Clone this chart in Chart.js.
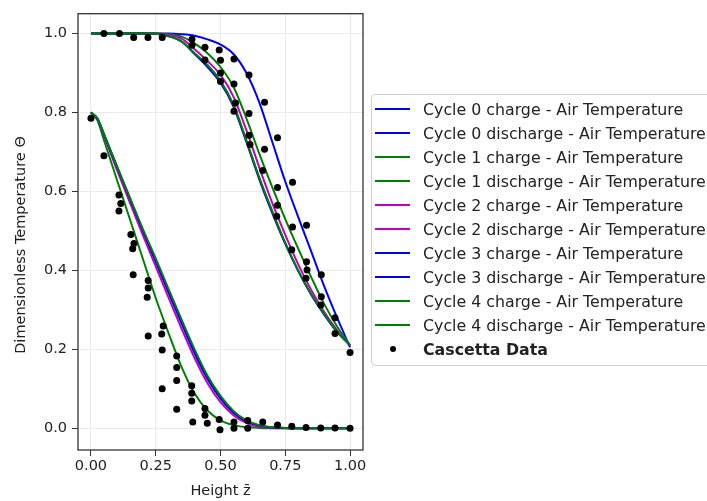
<!DOCTYPE html>
<html lang="en">
<head>
  <meta charset="UTF-8" />
  <title>Air Temperature vs Cascetta Data</title>
  <script src="https://cdn.jsdelivr.net/npm/chart.js@4.4.0/dist/chart.umd.min.js"></script>
  <style>
    html, body { margin: 0; padding: 0; background: #fff; overflow: hidden; }
    #wrap { position: relative; width: 707px; height: 501px; overflow: hidden; }
    #legend {
      position: absolute; left: 371px; top: 94px; width: 380px; height: 272px;
      box-sizing: border-box; border: 1px solid #d2d2d2; border-radius: 4px;
      background: rgba(255,255,255,0.8); padding-top: 2px;
      font-family: "DejaVu Sans", sans-serif; font-size: 15.8px; color: #222;
    }
    .row { height: 24px; display: flex; align-items: center; white-space: nowrap; }
    .swatch { width: 35px; height: 2px; margin-left: 3px; margin-right: 13px; }
    .dot { width: 35px; margin-left: 3px; margin-right: 13px; display: flex; justify-content: center; }
    .dot span { width: 6px; height: 6px; border-radius: 50%; background: #000; }
  </style>
</head>
<body>
  <div id="wrap">
    <canvas id="myChart" width="707" height="501"></canvas>
    <div id="legend"></div>
  </div>

  <script>
    // model grid (dimensionless height)
    const zGrid = [0, 0.025, 0.05, 0.1, 0.15, 0.2, 0.25, 0.3, 0.35, 0.4, 0.45, 0.5, 0.55, 0.6, 0.65, 0.7, 0.75, 0.8, 0.85, 0.9, 0.95, 1.0];

    // charge curves (start at 1.0)
    const cycle0Charge = [1, 1, 1, 1, 1, 1, 1, 1, 0.998, 0.994, 0.985, 0.972, 0.948, 0.9, 0.825, 0.725, 0.625, 0.535, 0.448, 0.36, 0.28, 0.205];
    const cycle1Charge = [1, 1, 1, 1, 1, 1, 1, 0.998, 0.992, 0.975, 0.95, 0.915, 0.865, 0.785, 0.695, 0.61, 0.53, 0.455, 0.383, 0.315, 0.258, 0.21];
    const cycle2Charge = [1, 1, 1, 1, 1, 1, 1, 0.996, 0.987, 0.96, 0.93, 0.895, 0.84, 0.755, 0.66, 0.57, 0.49, 0.415, 0.35, 0.295, 0.248, 0.21];
    const cycle3Charge = [1, 1, 1, 1, 1, 1, 0.999, 0.993, 0.979, 0.948, 0.915, 0.875, 0.815, 0.725, 0.63, 0.545, 0.467, 0.398, 0.338, 0.288, 0.244, 0.21];
    const cycle4Charge = [1, 1, 1, 1, 1, 1, 0.999, 0.993, 0.98, 0.95, 0.92, 0.88, 0.82, 0.73, 0.635, 0.55, 0.47, 0.4, 0.34, 0.29, 0.245, 0.21];

    // discharge curves (start at 0.8)
    const cycle0Discharge = [0.8, 0.784, 0.744, 0.661, 0.58, 0.5, 0.422, 0.343, 0.265, 0.19, 0.125, 0.075, 0.039, 0.017, 0.006, 0.002, 0.0005, 0, 0, 0, 0, 0];
    const cycle1Discharge = [0.8, 0.78, 0.73, 0.63, 0.53, 0.43, 0.33, 0.24, 0.155, 0.088, 0.045, 0.02, 0.008, 0.003, 0.001, 0, 0, 0, 0, 0, 0, 0];
    const cycle2Discharge = [0.8, 0.783, 0.742, 0.655, 0.572, 0.49, 0.41, 0.33, 0.252, 0.178, 0.114, 0.066, 0.033, 0.013, 0.004, 0.001, 0, 0, 0, 0, 0, 0];
    const cycle3Discharge = [0.8, 0.784, 0.745, 0.663, 0.582, 0.502, 0.425, 0.347, 0.27, 0.194, 0.128, 0.078, 0.041, 0.018, 0.007, 0.002, 0.0005, 0, 0, 0, 0, 0];
    const cycle4Discharge = [0.8, 0.785, 0.746, 0.665, 0.585, 0.505, 0.43, 0.352, 0.275, 0.2, 0.133, 0.082, 0.044, 0.02, 0.008, 0.003, 0.001, 0, 0, 0, 0, 0];

    // experimental points
    const cascettaZ = [
      0.05, 0.11, 0.165, 0.22, 0.275, 0.39, 0.39, 0.44, 0.495, 0.44, 0.5, 0.552, 0.5, 0.5, 0.61, 0.552,
      0.67, 0.558, 0.552, 0.61, 0.61, 0.614, 0.72, 0.67, 0.663, 0.72, 0.778, 0.72, 0.717, 0.778, 0.832,
      0.775, 0.832, 0.834, 0.83, 0.889, 0.889, 0.887, 0.942, 0.942, 1.0,
      0.0, 0.05, 0.108, 0.115, 0.108, 0.154, 0.166, 0.161, 0.163, 0.221, 0.221, 0.217, 0.221, 0.279, 0.273,
      0.275, 0.275, 0.331, 0.331, 0.331, 0.331, 0.389, 0.389, 0.389, 0.393, 0.44, 0.44, 0.449, 0.495, 0.498,
      0.552, 0.552, 0.605, 0.605, 0.663, 0.72, 0.775, 0.83, 0.887, 0.942, 1.0
    ];
    const cascettaTheta = [
      1.0, 1.0, 0.99, 0.99, 0.99, 0.985, 0.97, 0.965, 0.958, 0.933, 0.932, 0.935, 0.9, 0.878, 0.895, 0.872,
      0.826, 0.824, 0.803, 0.797, 0.742, 0.719, 0.736, 0.707, 0.653, 0.61, 0.623, 0.565, 0.537, 0.51, 0.514,
      0.452, 0.422, 0.401, 0.38, 0.389, 0.333, 0.312, 0.28, 0.24, 0.192,
      0.785, 0.69, 0.591, 0.569, 0.55, 0.491, 0.468, 0.455, 0.389, 0.374, 0.355, 0.332, 0.234, 0.259, 0.239,
      0.198, 0.1, 0.183, 0.154, 0.121, 0.048, 0.108, 0.089, 0.069, 0.016, 0.05, 0.033, 0.013, 0.022, -0.004,
      0.016, 0.0, 0.02, 0.0, 0.016, 0.008, 0.005, 0.002, 0.001, 0.001, 0.0
    ];

    const xTicks = [0, 0.25, 0.5, 0.75, 1.0];
    const yTicks = [0, 0.2, 0.4, 0.6, 0.8, 1.0];
    const yTitle = 'Dimensionless Temperature \u0398';

    const BLUE = '#0000ff', GREEN = '#008000', MAGENTA = '#bf00bf';

    const curves = [
      ['Cycle 0 charge - Air Temperature', cycle0Charge, BLUE],
      ['Cycle 0 discharge - Air Temperature', cycle0Discharge, BLUE],
      ['Cycle 1 charge - Air Temperature', cycle1Charge, GREEN],
      ['Cycle 1 discharge - Air Temperature', cycle1Discharge, GREEN],
      ['Cycle 2 charge - Air Temperature', cycle2Charge, MAGENTA],
      ['Cycle 2 discharge - Air Temperature', cycle2Discharge, MAGENTA],
      ['Cycle 3 charge - Air Temperature', cycle3Charge, BLUE],
      ['Cycle 3 discharge - Air Temperature', cycle3Discharge, BLUE],
      ['Cycle 4 charge - Air Temperature', cycle4Charge, GREEN],
      ['Cycle 4 discharge - Air Temperature', cycle4Discharge, GREEN]
    ];

    const datasets = curves.map((c, i) => ({
      type: 'line',
      label: c[0],
      data: zGrid.map((z, k) => ({ x: z, y: c[1][k] })),
      borderColor: c[2],
      borderWidth: 2,
      pointRadius: 0,
      fill: false,
      cubicInterpolationMode: 'monotone',
      order: 20 - i
    }));
    datasets.push({
      type: 'scatter',
      label: 'Cascetta Data',
      data: cascettaZ.map((z, k) => ({ x: z, y: cascettaTheta[k] })),
      backgroundColor: '#000',
      borderWidth: 0,
      pointRadius: 3.5,
      order: 0
    });

    const tickFont = { family: 'DejaVu Sans', size: 14.5 };

    // box around the axes (like matplotlib spines) + y label
    const framePlugin = {
      id: 'frame',
      afterDraw(chart) {
        const { ctx, chartArea: a } = chart;
        ctx.save();
        ctx.strokeStyle = '#333';
        ctx.lineWidth = 1.3;
        ctx.strokeRect(a.left, a.top, a.right - a.left, a.bottom - a.top);
        ctx.translate(21, 245);
        ctx.rotate(-Math.PI / 2);
        ctx.font = '14.5px "DejaVu Sans"';
        ctx.fillStyle = '#222';
        ctx.textAlign = 'center';
        ctx.textBaseline = 'middle';
        ctx.fillText(yTitle, 0, 0);
        ctx.restore();
      }
    };

    const chart = new Chart(document.getElementById('myChart'), {
      type: 'line',
      data: { datasets },
      options: {
        responsive: false,
        animation: false,
        layout: { padding: { top: 10, right: 344, left: 0, bottom: 0 } },
        plugins: { legend: { display: false }, tooltip: { enabled: false } },
        scales: {
          x: {
            type: 'linear', min: -0.05, max: 1.05,
            afterFit(s) { s.height = 51; },
            afterBuildTicks(s) { s.ticks = xTicks.map(v => ({ value: v })); },
            ticks: { callback: v => v.toFixed(2), color: '#222', font: tickFont, padding: 2, maxRotation: 0, autoSkip: false },
            grid: { color: '#ebebeb', tickColor: '#333', tickLength: 6 },
            border: { display: false },
            title: { display: true, text: 'Height z\u0304', color: '#222', font: tickFont, padding: { top: 0, bottom: 1 } }
          },
          y: {
            type: 'linear', min: -0.055, max: 1.05,
            afterFit(s) { s.width = 78; },
            afterBuildTicks(s) { s.ticks = yTicks.map(v => ({ value: v })); },
            ticks: { callback: v => v.toFixed(1), color: '#222', font: tickFont, padding: 5, autoSkip: false },
            grid: { color: '#ebebeb', tickColor: '#333', tickLength: 6 },
            border: { display: false }
          }
        }
      },
      plugins: [framePlugin]
    });

    // legend as html, built from the chart's datasets
    const legend = document.getElementById('legend');
    chart.data.datasets.forEach(ds => {
      const row = document.createElement('div');
      row.className = 'row';
      if (ds.type === 'scatter') {
        row.innerHTML = '<div class="dot"><span></span></div><b>' + ds.label + '</b>';
      } else {
        row.innerHTML = '<div class="swatch" style="background:' + ds.borderColor + '"></div>' + ds.label;
      }
      legend.appendChild(row);
    });
  </script>
</body>
</html>
